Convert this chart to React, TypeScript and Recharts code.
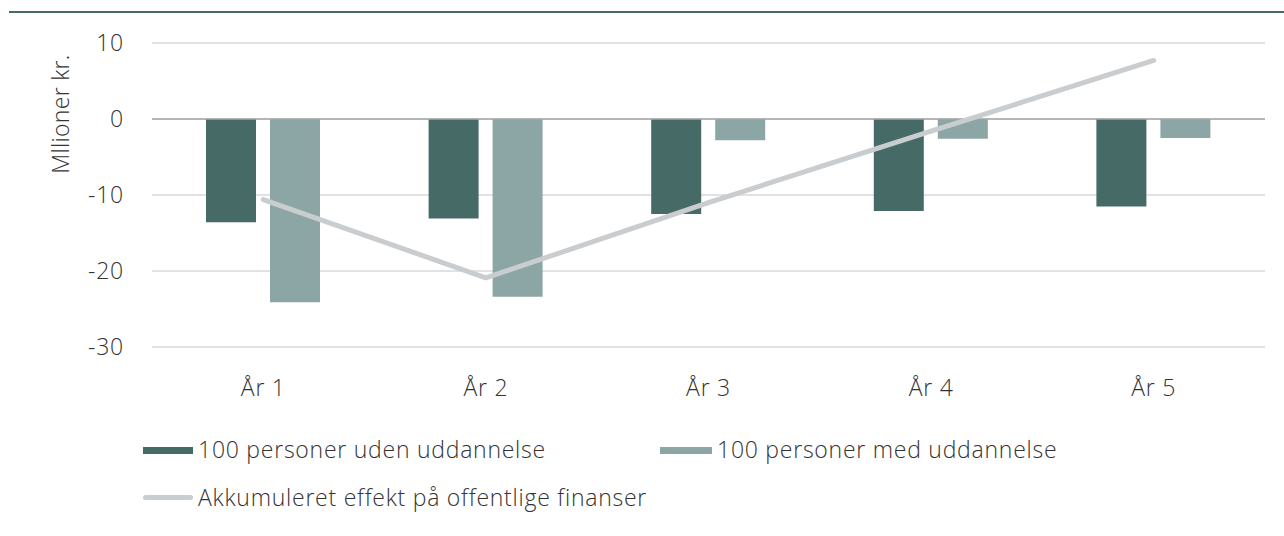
import { ComposedChart, Bar, Line, XAxis, YAxis, CartesianGrid, ReferenceLine } from 'recharts'

const years = ['År 1', 'År 2', 'År 3', 'År 4', 'År 5']
const udenUddannelse = [-13.6, -13.1, -12.5, -12.1, -11.5]
const medUddannelse = [-24.1, -23.4, -2.8, -2.6, -2.5]
const akkumuleret = [-10.6, -20.9, -11.0, -1.6, 7.7]
const yTicks = [10, 0, -10, -20, -30]

const DARK = '#466a66'
const LIGHT = '#8ba6a4'
const LINE = '#c9cdd0'
const TEXT = '#333333'
const FONT = '"Open Sans", "Noto Sans", sans-serif'
const FS = 23
const LS = 0.75

const data = years.map((y, i) => ({
  year: y,
  uden: udenUddannelse[i],
  med: medUddannelse[i],
  akk: akkumuleret[i],
}))

function XTick({ x, y, payload }: any) {
  return (
    <text x={x} y={y} dy={49} textAnchor="middle" fill={TEXT} fontSize={FS} fontWeight={300} fontFamily={FONT} letterSpacing={LS}>
      {payload.value}
    </text>
  )
}

function YTick({ x, y, payload }: any) {
  return (
    <text x={x} y={y} dx={-28} dy={8} textAnchor="end" fill={TEXT} fontSize={FS} fontWeight={300} fontFamily={FONT} letterSpacing={LS}>
      {payload.value}
    </text>
  )
}

const legendText: React.CSSProperties = {
  position: 'absolute', fontFamily: FONT, fontSize: FS, fontWeight: 300, color: TEXT, whiteSpace: 'nowrap', lineHeight: '26px', letterSpacing: LS,
}

export default function App() {
  return (
    <div style={{ position: 'absolute', left: 0, top: 0, width: 1284, height: 536, background: '#fff', overflow: 'hidden' }}>
      <div style={{ position: 'absolute', left: 9, top: 11, width: 1275, height: 2, background: DARK }} />
      <div style={{ position: 'absolute', left: 0, top: 0 }}>
        <ComposedChart
          width={1284}
          height={536}
          data={data}
          margin={{ top: 43, right: 19, left: 0, bottom: 136 }}
          barSize={50}
          barGap={14}
          barCategoryGap={54}
        >
          <CartesianGrid vertical={false} stroke="#d9d9d9" strokeWidth={1.5} />
          <XAxis dataKey="year" axisLine={false} tickLine={false} tickSize={0} tickMargin={0} height={53} tick={<XTick />} />
          <YAxis
            domain={[-30, 10]}
            ticks={yTicks}
            axisLine={false}
            tickLine={false}
            tickSize={0}
            tickMargin={0}
            width={152}
            tick={<YTick />}
            label={{
              content: () => (
                <text x={0} y={0} transform="translate(69,114) rotate(-90)" textAnchor="middle" fill={TEXT} fontSize={FS} fontWeight={300} fontFamily={FONT} letterSpacing={0.3}>
                  Mllioner kr.
                </text>
              ),
            }}
          />
          <ReferenceLine y={0} stroke="#a6a6a6" strokeWidth={1.5} />
          <Bar dataKey="uden" fill={DARK} isAnimationActive={false} />
          <Bar dataKey="med" fill={LIGHT} isAnimationActive={false} />
          <Line dataKey="akk" stroke={LINE} strokeWidth={5} strokeLinecap="round" strokeLinejoin="round" dot={false} isAnimationActive={false} />
        </ComposedChart>
      </div>
      <div style={{ position: 'absolute', left: 143, top: 447, width: 50, height: 7, background: DARK }} />
      <div style={{ ...legendText, left: 198, top: 436 }}>100 personer uden uddannelse</div>
      <div style={{ position: 'absolute', left: 660, top: 447, width: 52, height: 7, background: LIGHT }} />
      <div style={{ ...legendText, left: 717, top: 436 }}>100 personer med uddannelse</div>
      <div style={{ position: 'absolute', left: 143, top: 495, width: 50, height: 5, borderRadius: 3, background: LINE }} />
      <div style={{ ...legendText, left: 198, top: 484 }}>Akkumuleret effekt på offentlige finanser</div>
    </div>
  )
}
